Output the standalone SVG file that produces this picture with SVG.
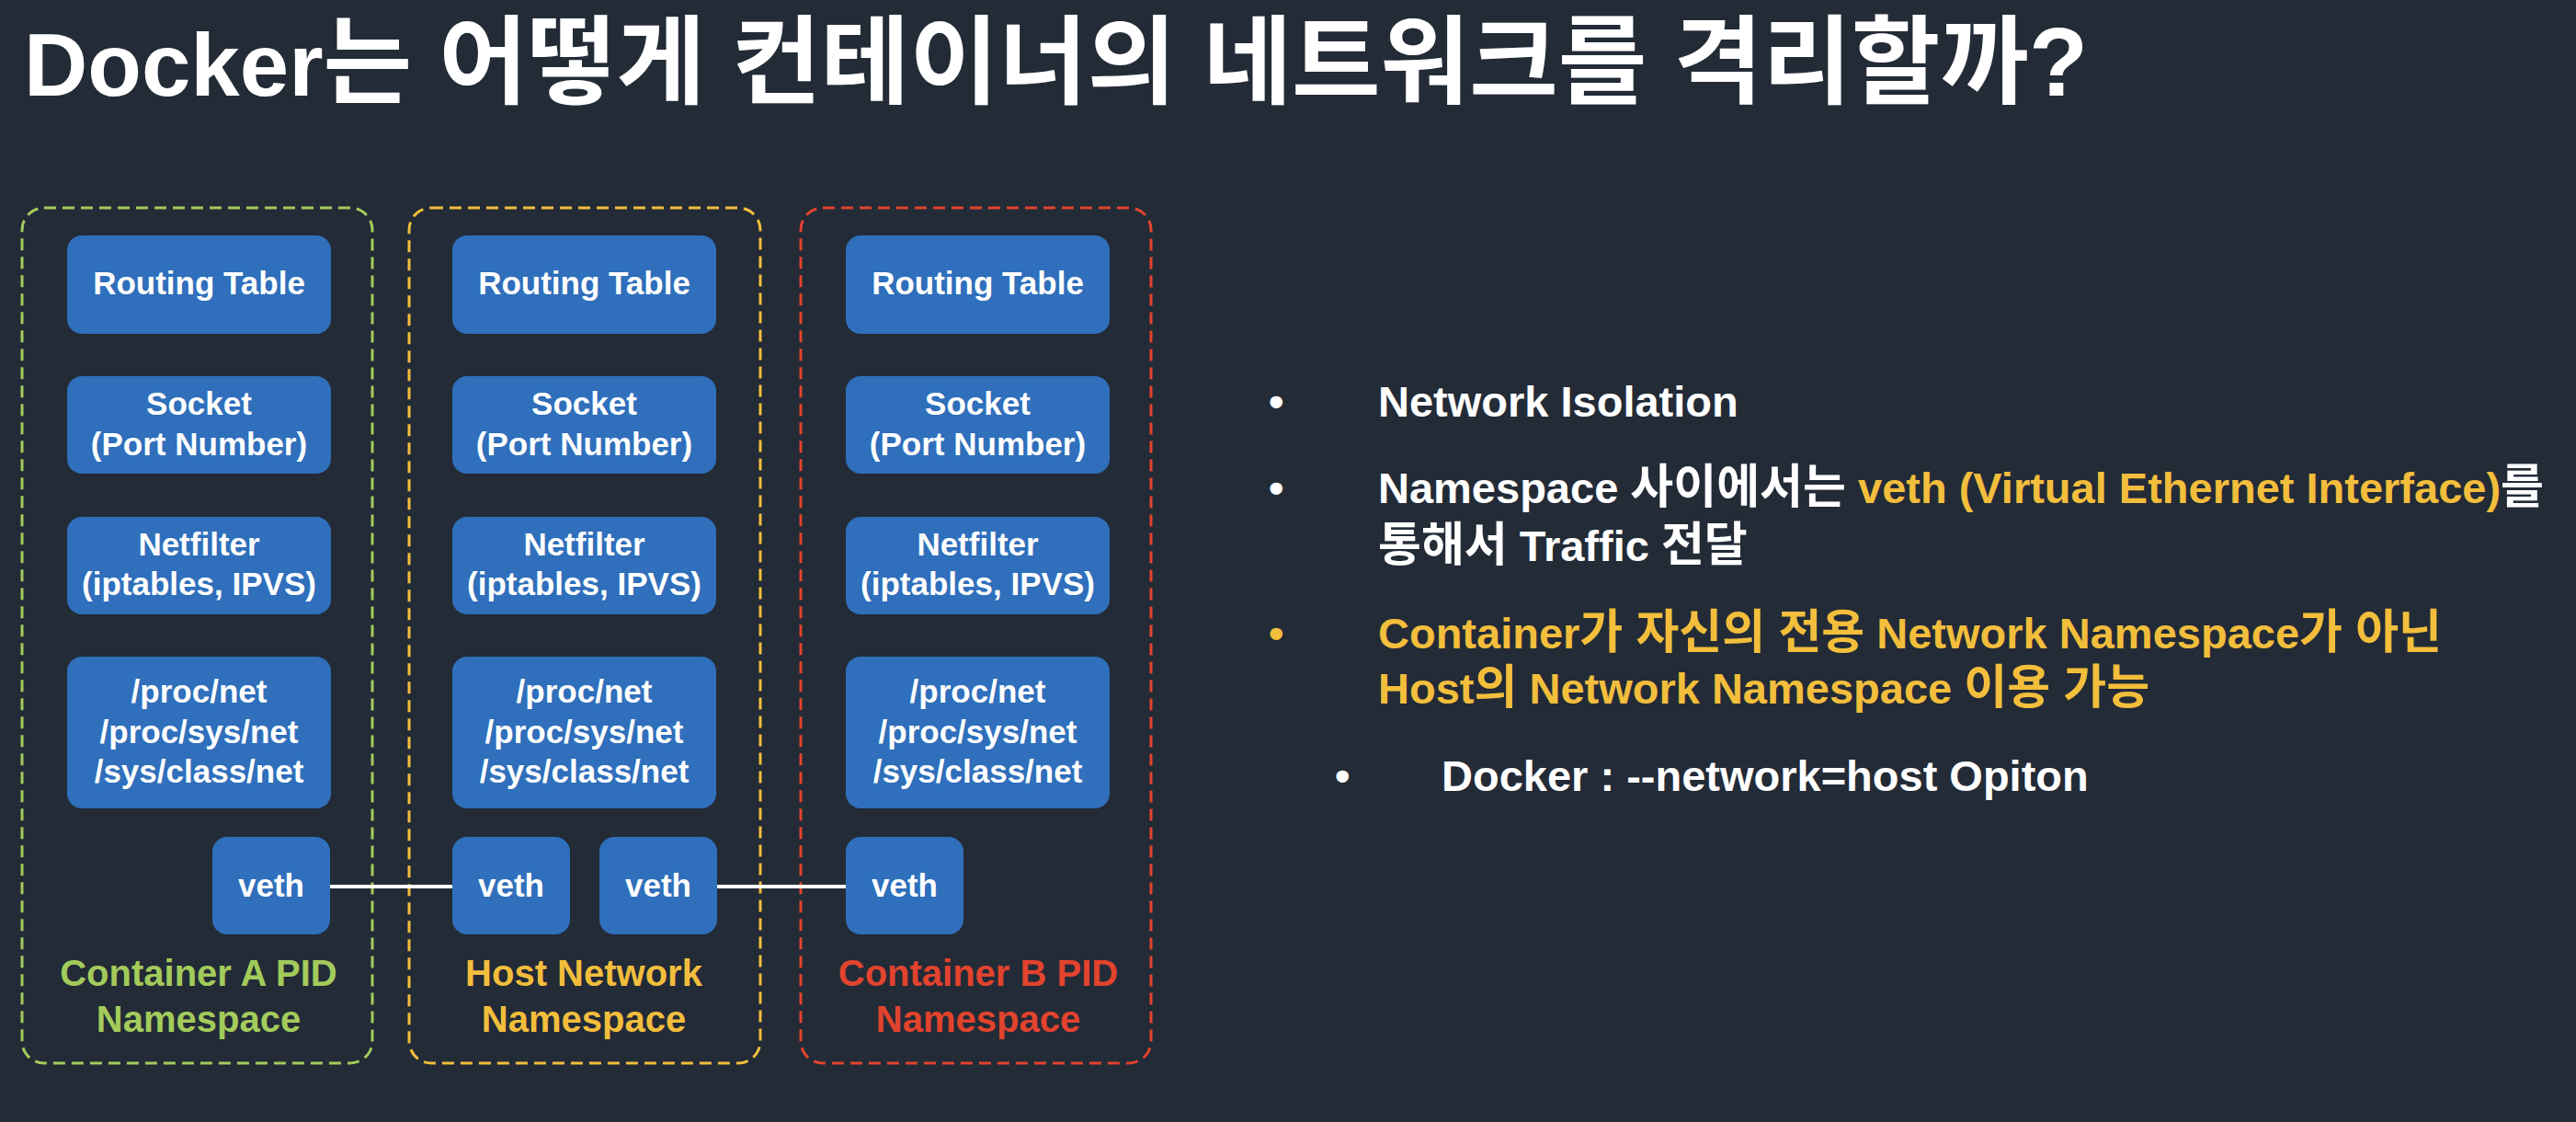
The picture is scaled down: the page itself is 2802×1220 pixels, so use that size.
<svg xmlns="http://www.w3.org/2000/svg" width="2802" height="1220" viewBox="0 0 2802 1220">
<style>
text { font-family: "Liberation Sans", "Noto Sans CJK KR", sans-serif; font-weight: bold; }
.box { fill: #2f6fbb; }
.bt { fill: #ffffff; font-size: 35px; text-anchor: middle; }
.frame { fill: none; stroke-width: 3; stroke-dasharray: 13 7; }
.lbl { font-size: 40px; text-anchor: middle; }
.rt { font-size: 47px; fill: #ffffff; }
.k { font-size: 51px; }
.y { fill: #f2be3c; }
.conn { stroke: #ffffff; stroke-width: 4; fill: none; }
</style>
<rect x="0" y="0" width="2802" height="1220" fill="#232b37"/>
<text id="title" x="26" y="104" font-size="105" fill="#ffffff"><tspan font-size="96">Docker</tspan>는 어떻게 컨테이너의 네트워크를 격리할까?</text>

<g id="frameA">
<rect class="frame" x="24" y="226" width="381" height="930" rx="24" stroke="#a3cb5b"/>
<text class="lbl" x="216" y="1072" fill="#a3cb5b">Container A PID</text>
<text class="lbl" x="216" y="1122" fill="#a3cb5b">Namespace</text>
</g>
<g id="frameHost">
<rect class="frame" x="445" y="226" width="382" height="930" rx="24" stroke="#f2be3c"/>
<text class="lbl" x="635" y="1072" fill="#f2be3c">Host Network</text>
<text class="lbl" x="635" y="1122" fill="#f2be3c">Namespace</text>
</g>
<g id="frameB">
<rect class="frame" x="871" y="226" width="381" height="930" rx="24" stroke="#e2432d"/>
<text class="lbl" x="1064" y="1072" fill="#e2432d">Container B PID</text>
<text class="lbl" x="1064" y="1122" fill="#e2432d">Namespace</text>
</g>

<g id="connectors">
<line class="conn" x1="359" y1="964" x2="492" y2="964"/>
<line class="conn" x1="780" y1="964" x2="920" y2="964"/>
</g>

<g id="A-routing"><rect class="box" x="73" y="256" width="287" height="107" rx="16"/><text class="bt" x="216.5" y="320">Routing Table</text></g>
<g id="A-socket"><rect class="box" x="73" y="409" width="287" height="106" rx="16"/><text class="bt" x="216.5" y="451">Socket</text><text class="bt" x="216.5" y="495">(Port Number)</text></g>
<g id="A-netfilter"><rect class="box" x="73" y="562" width="287" height="106" rx="16"/><text class="bt" x="216.5" y="604">Netfilter</text><text class="bt" x="216.5" y="647">(iptables, IPVS)</text></g>
<g id="A-proc"><rect class="box" x="73" y="714" width="287" height="165" rx="16"/><text class="bt" x="216.5" y="764">/proc/net</text><text class="bt" x="216.5" y="808">/proc/sys/net</text><text class="bt" x="216.5" y="851">/sys/class/net</text></g>
<g id="A-veth"><rect class="box" x="231" y="910" width="128" height="106" rx="16"/><text class="bt" x="295" y="975">veth</text></g>

<g id="H-routing"><rect class="box" x="492" y="256" width="287" height="107" rx="16"/><text class="bt" x="635.5" y="320">Routing Table</text></g>
<g id="H-socket"><rect class="box" x="492" y="409" width="287" height="106" rx="16"/><text class="bt" x="635.5" y="451">Socket</text><text class="bt" x="635.5" y="495">(Port Number)</text></g>
<g id="H-netfilter"><rect class="box" x="492" y="562" width="287" height="106" rx="16"/><text class="bt" x="635.5" y="604">Netfilter</text><text class="bt" x="635.5" y="647">(iptables, IPVS)</text></g>
<g id="H-proc"><rect class="box" x="492" y="714" width="287" height="165" rx="16"/><text class="bt" x="635.5" y="764">/proc/net</text><text class="bt" x="635.5" y="808">/proc/sys/net</text><text class="bt" x="635.5" y="851">/sys/class/net</text></g>
<g id="H-veth1"><rect class="box" x="492" y="910" width="128" height="106" rx="16"/><text class="bt" x="556" y="975">veth</text></g>
<g id="H-veth2"><rect class="box" x="652" y="910" width="128" height="106" rx="16"/><text class="bt" x="716" y="975">veth</text></g>

<g id="B-routing"><rect class="box" x="920" y="256" width="287" height="107" rx="16"/><text class="bt" x="1063.5" y="320">Routing Table</text></g>
<g id="B-socket"><rect class="box" x="920" y="409" width="287" height="106" rx="16"/><text class="bt" x="1063.5" y="451">Socket</text><text class="bt" x="1063.5" y="495">(Port Number)</text></g>
<g id="B-netfilter"><rect class="box" x="920" y="562" width="287" height="106" rx="16"/><text class="bt" x="1063.5" y="604">Netfilter</text><text class="bt" x="1063.5" y="647">(iptables, IPVS)</text></g>
<g id="B-proc"><rect class="box" x="920" y="714" width="287" height="165" rx="16"/><text class="bt" x="1063.5" y="764">/proc/net</text><text class="bt" x="1063.5" y="808">/proc/sys/net</text><text class="bt" x="1063.5" y="851">/sys/class/net</text></g>
<g id="B-veth"><rect class="box" x="920" y="910" width="128" height="106" rx="16"/><text class="bt" x="984" y="975">veth</text></g>

<g id="bullets">
<text class="rt" x="1380" y="453">•</text>
<text class="rt" x="1499" y="453">Network Isolation</text>
<text class="rt" x="1380" y="547">•</text>
<text class="rt" x="1499" y="547">Namespace <tspan class="k">사이에서는</tspan> <tspan class="y">veth (Virtual Ethernet Interface)</tspan><tspan class="k">를</tspan></text>
<text class="rt" x="1499" y="610"><tspan class="k">통해서</tspan> Traffic <tspan class="k">전달</tspan></text>
<text class="rt y" x="1380" y="705">•</text>
<text class="rt y" x="1499" y="705">Container<tspan class="k">가 자신의 전용</tspan> Network Namespace<tspan class="k">가 아닌</tspan></text>
<text class="rt y" x="1499" y="765">Host<tspan class="k">의</tspan> Network Namespace <tspan class="k">이용 가능</tspan></text>
<text class="rt" x="1452" y="860">•</text>
<text class="rt" x="1568" y="860">Docker : --network=host Opiton</text>
</g>
</svg>
